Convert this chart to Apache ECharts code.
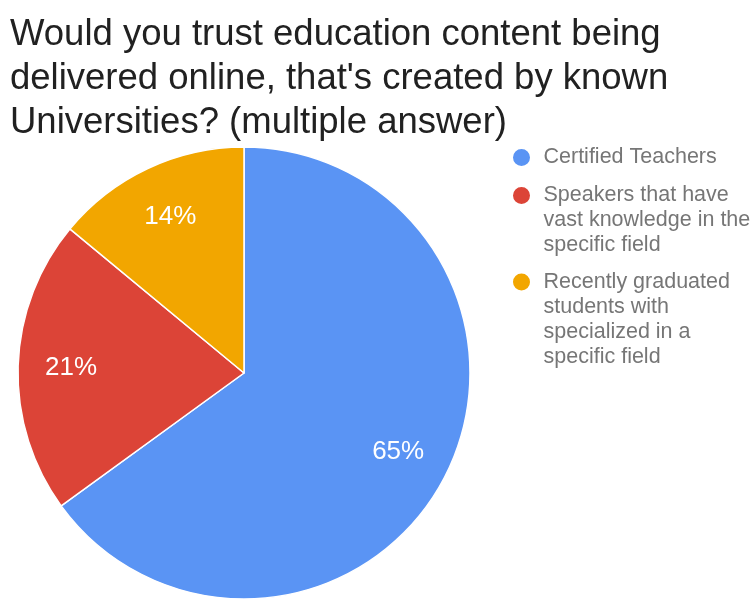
<!DOCTYPE html>
<html>
<head>
<meta charset="utf-8">
<script src="https://cdn.jsdelivr.net/npm/echarts@6/dist/echarts.min.js"></script>
<style>
  html, body { margin: 0; padding: 0; background: #fff; }
  #chart { width: 755px; height: 599px; }
</style>
</head>
<body>
<div id="chart"></div>
<script>
// Survey answers and their shares (percent)
const answers = [
  'Certified Teachers',
  'Speakers that have vast knowledge in the specific field',
  'Recently graduated students with specialized in a specific field'
];
const shares = [65, 21, 14];
const sliceColors = ['#5A94F4', '#DC4437', '#F2A600'];

// Legend text wrapped the way it is shown beside the pie
const legendLines = {
  'Certified Teachers': 'Certified Teachers',
  'Speakers that have vast knowledge in the specific field':
    'Speakers that have\nvast knowledge in the\nspecific field',
  'Recently graduated students with specialized in a specific field':
    'Recently graduated\nstudents with\nspecialized in a\nspecific field'
};

const LEGEND_LINE = 25;
const FONT = 'Liberation Sans, Arial, sans-serif';

const pieData = answers.map((name, i) => ({
  name: name,
  value: shares[i],
  itemStyle: { color: sliceColors[i] }
}));

// negative bottom padding keeps the dot level with the first line of wrapped legend text
const legendData = answers.map(name => {
  const n = legendLines[name].split('\n').length;
  return { name: name, textStyle: { padding: [0, 0, -(n - 1) * LEGEND_LINE, 0] } };
});

const chart = echarts.init(document.getElementById('chart'));
chart.setOption({
  animation: false,
  backgroundColor: '#ffffff',
  title: {
    text: 'Would you trust education content being\ndelivered online, that\'s created by known\nUniversities? (multiple answer)',
    left: 5,
    top: 8,
    textStyle: {
      fontFamily: FONT,
      fontSize: 36.5,
      fontWeight: 'normal',
      color: '#212121',
      lineHeight: 44
    }
  },
  legend: {
    orient: 'vertical',
    left: 506,
    top: 140,
    icon: 'circle',
    itemWidth: 34,
    itemHeight: 19,
    itemGap: 13,
    data: legendData,
    formatter: name => legendLines[name],
    textStyle: {
      fontFamily: FONT,
      fontSize: 21.5,
      color: '#767676',
      lineHeight: LEGEND_LINE,
      rich: { t: {} }
    }
  },
  series: [
    {
      type: 'pie',
      center: [244, 373],
      radius: 226,
      startAngle: 90,
      clockwise: true,
      data: pieData,
      label: { show: false },
      labelLine: { show: false },
      itemStyle: { borderColor: '#ffffff', borderWidth: 1.5 },
      silent: true
    },
    {
      // transparent twin ring that places the percent labels at 3/4 of the radius
      type: 'pie',
      center: [244, 373],
      radius: [0, 340],
      startAngle: 90,
      clockwise: true,
      data: pieData.map(d => ({ name: d.name, value: d.value })),
      itemStyle: { color: 'rgba(0,0,0,0)', borderWidth: 0 },
      label: {
        show: true,
        position: 'inner',
        formatter: p => p.value + '%',
        fontFamily: FONT,
        fontSize: 26,
        color: '#ffffff'
      },
      labelLine: { show: false },
      silent: true,
      z: 3
    }
  ]
});
</script>
</body>
</html>
